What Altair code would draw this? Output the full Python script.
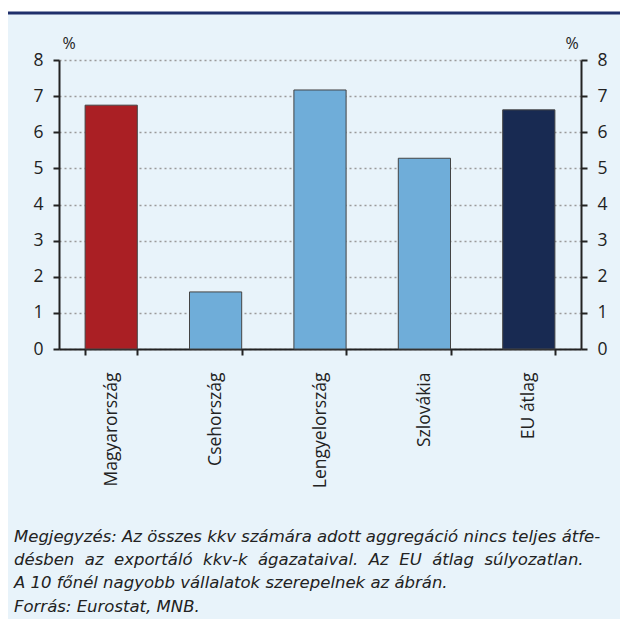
import altair as alt
import pandas as pd

categories = ["Magyarország", "Csehország", "Lengyelország", "Szlovákia", "EU átlag"]
values = [6.75, 1.58, 7.17, 5.28, 6.62]
bar_colors = ["#aa1f24", "#6fadd9", "#6fadd9", "#6fadd9", "#182a52"]
y_ticks = [0, 1, 2, 3, 4, 5, 6, 7, 8]
unit_label = "%"
notes = [
    "Megjegyzés: Az összes kkv számára adott aggregáció nincs teljes átfe-",
    "désben az exportáló kkv-k ágazataival. Az EU átlag súlyozatlan.",
    "A 10 főnél nagyobb vállalatok szerepelnek az ábrán.",
    "Forrás: Eurostat, MNB.",
]

PANEL = "#e8f3fa"
NAVY_LINE = "#1f2f6b"
TXT = "#222222"
FONT = "Open Sans"
NOTE_FONT = "DejaVu Sans"

W, H = 522, 289

df = pd.DataFrame({"cat": categories, "val": values, "col": bar_colors})
one = pd.DataFrame({"k": [0]})

x_axis = alt.Axis(
    title=None, labelAngle=-90, labelFontSize=17.5, labelColor=TXT, labelFont=FONT,
    labelPadding=17, tickBand="extent", tickSize=6, tickWidth=2, tickColor="#222",
    domainColor="#222", domainWidth=2, grid=False,
)
x_enc = alt.X("cat:N", sort=categories, axis=x_axis,
              scale=alt.Scale(paddingInner=0.5, paddingOuter=0.25))

y_scale = alt.Scale(domain=[0, 8], nice=False)

left_axis = alt.Axis(
    title=None, orient="left", values=y_ticks, labelFontSize=17.5, labelColor=TXT,
    labelFont=FONT, labelPadding=10, tickSize=6, tickWidth=2, tickColor="#222",
    domainColor="#222", domainWidth=2, grid=True, gridDash=[2, 3],
    gridColor="#9a9a9a", gridWidth=1.5,
)
right_axis = alt.Axis(
    title=None, orient="right", values=y_ticks, labelFontSize=17.5, labelColor=TXT,
    labelFont=FONT, labelPadding=10, tickSize=6, tickWidth=2, tickColor="#222",
    domainColor="#222", domainWidth=2, grid=False,
)

bars = alt.Chart(df).mark_bar(stroke="#444444", strokeWidth=1).encode(
    x=x_enc,
    y=alt.Y("val:Q", scale=y_scale, axis=left_axis),
    color=alt.Color("col:N", scale=None),
)

right = alt.Chart(df).mark_bar(opacity=0).encode(
    x=x_enc,
    y=alt.Y("val:Q", scale=y_scale, axis=right_axis),
)

white_strip = alt.Chart(one).mark_rect(color="white").encode(
    x=alt.value(-52), x2=alt.value(W + 40), y=alt.value(-53), y2=alt.value(-48)
)
top_line = alt.Chart(one).mark_rule(color=NAVY_LINE, strokeWidth=3).encode(
    x=alt.value(-52), x2=alt.value(W + 40), y=alt.value(-47)
)

pct_left = alt.Chart(pd.DataFrame({"t": [unit_label]})).mark_text(
    font=FONT, fontSize=16, color=TXT, align="center", baseline="middle"
).encode(text="t:N", x=alt.value(10), y=alt.value(-16))
pct_right = alt.Chart(pd.DataFrame({"t": [unit_label]})).mark_text(
    font=FONT, fontSize=16, color=TXT, align="center", baseline="middle"
).encode(text="t:N", x=alt.value(W - 9), y=alt.value(-16))


def widen(s, extra):
    # justified look: widen the gaps between words with non-breaking spaces
    return (" " + "\u00a0" * extra).join(s.split(" "))


note_text = [widen(notes[0], 0), widen(notes[1], 1), notes[2], notes[3]]
note_y = [477, 500, 523, 547]
note_layers = []
for i, line in enumerate(note_text):
    note_layers.append(
        alt.Chart(pd.DataFrame({"t": [line]})).mark_text(
            font=NOTE_FONT, fontSize=16.5, fontStyle="italic", color=TXT,
            align="left", baseline="middle"
        ).encode(text="t:N", x=alt.value(-45), y=alt.value(note_y[i]))
    )

chart = alt.layer(
    bars, right, white_strip, top_line, pct_left, pct_right, *note_layers
).resolve_scale(y="independent").properties(
    width=W, height=H,
    autosize=alt.AutoSizeParams(type="none"),
    padding={"left": 51, "top": 52, "right": 39, "bottom": 270},
    background=PANEL,
).configure_view(stroke=None)

chart.save("out.html", embed_options={"renderer": "svg", "actions": False})
